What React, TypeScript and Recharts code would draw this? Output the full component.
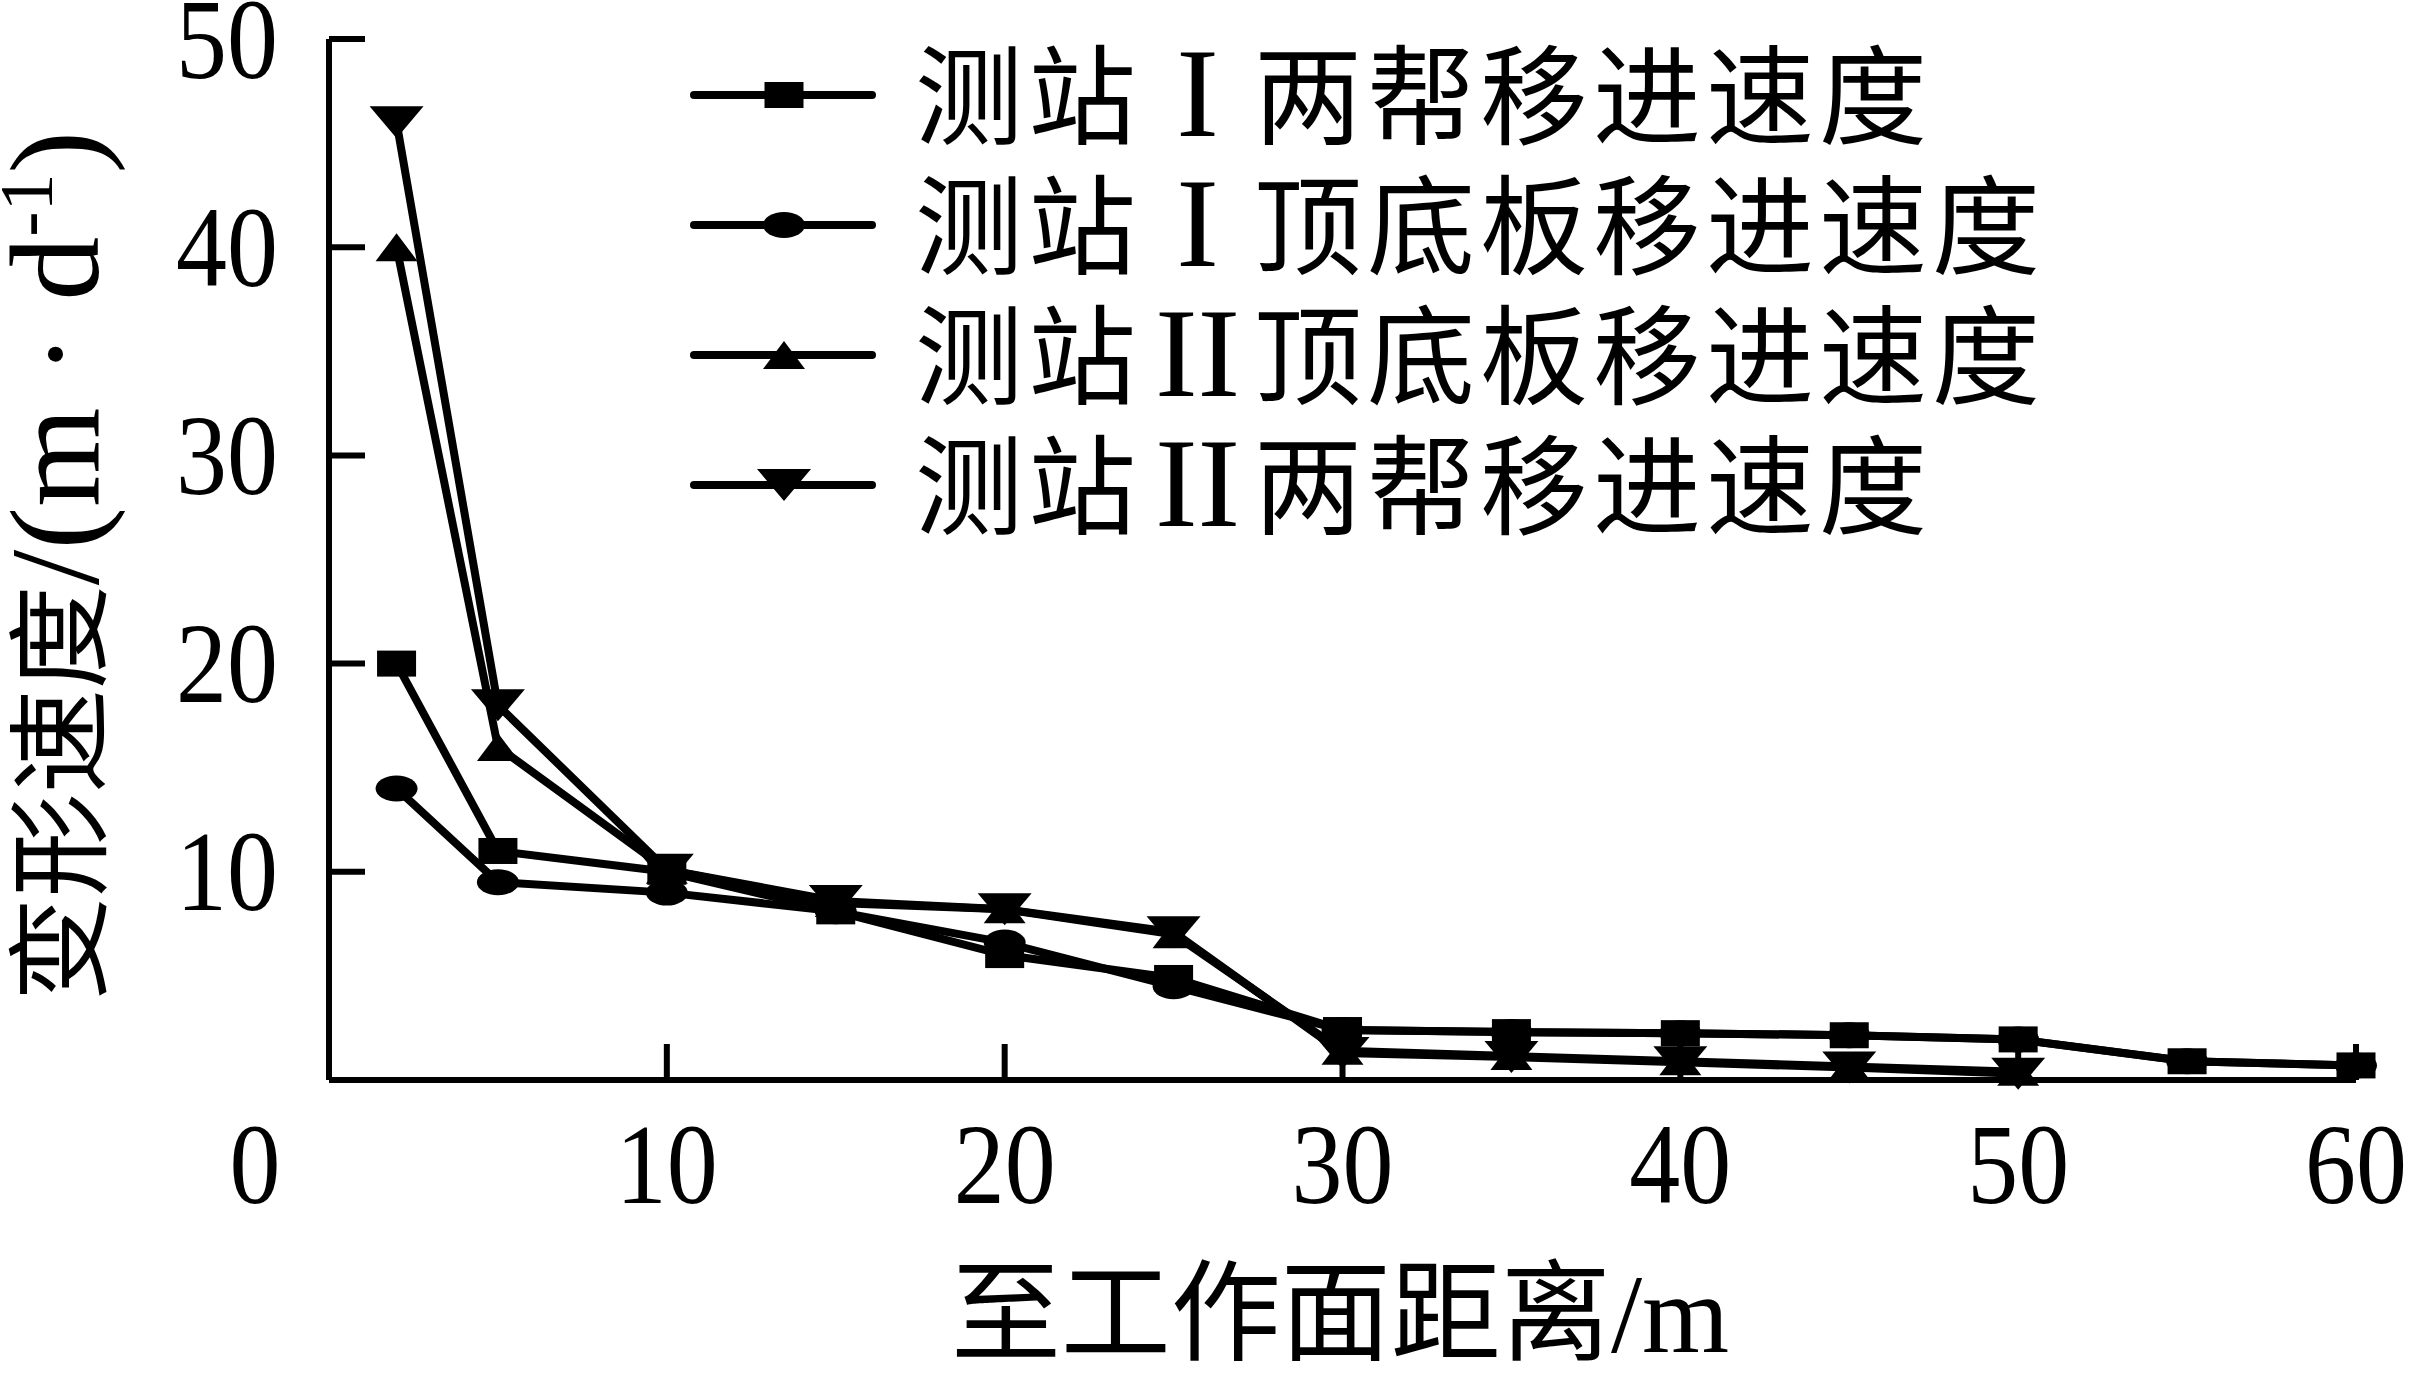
import React from 'react';
import { LineChart, Line, XAxis, YAxis, Legend, Label } from 'recharts';

// distance to working face (m)
const distances = [2, 5, 10, 15, 20, 25, 30, 35, 40, 45, 50, 55, 60];

// deformation speed per station / position
const st1Sides = [20, 11, 10, 8.1, 6.0, 4.9, 2.4, 2.3, 2.25, 2.15, 1.95, 0.9, 0.7];
const st1RoofFloor = [14, 9.5, 9.0, 8.1, 6.6, 4.5, 2.4, 2.3, 2.25, 2.15, 1.95, 0.9, 0.7];
const st2RoofFloor = [40, 16, 10.1, 8.5, 8.2, 7.0, 1.4, 1.15, 0.9, 0.65, 0.4, null, null];
const st2Sides = [46, 18, 10.1, 8.6, 8.2, 7.1, 1.3, 1.1, 0.85, 0.6, 0.3, null, null];

// legend parts: station, numeral, description
const seriesStation = ['测站', '测站', '测站', '测站'];
const seriesNumeral = ['I', 'I', 'II', 'II'];
const seriesDesc = ['两帮移进速度', '顶底板移进速度', '顶底板移进速度', '两帮移进速度'];
const seriesNames = ['测站Ⅰ两帮移进速度', '测站Ⅰ顶底板移进速度', '测站Ⅱ顶底板移进速度', '测站Ⅱ两帮移进速度'];

const xTicks = [0, 10, 20, 30, 40, 50, 60];
const yTicks = [10, 20, 30, 40, 50];

const data = distances.map((d, i) => ({
  d,
  s1: st1Sides[i],
  s2: st1RoofFloor[i],
  s3: st2RoofFloor[i],
  s4: st2Sides[i],
}));

const SERIF = '"Liberation Serif", "Times New Roman", serif';
const CJK = '"Noto Sans CJK SC", sans-serif';

const Marker = ({ kind, cx, cy }: { kind: number; cx: number; cy: number }) => {
  if (kind === 0) return <rect x={cx - 19.5} y={cy - 13} width={39} height={26} fill="#000" />;
  if (kind === 1) return <ellipse cx={cx} cy={cy} rx={21} ry={13} fill="#000" />;
  if (kind === 2)
    return <polygon points={`${cx},${cy - 14} ${cx + 21},${cy + 14} ${cx - 21},${cy + 14}`} fill="#000" />;
  return <polygon points={`${cx - 27},${cy - 16} ${cx + 27},${cy - 16} ${cx},${cy + 16}`} fill="#000" />;
};

const makeDot = (kind: number) => (p: any) => {
  if (p.cy == null || p.value == null || isNaN(p.cy)) return <g key={`e${kind}-${p.index}`} />;
  return (
    <g key={`d${kind}-${p.index}`}>
      <Marker kind={kind} cx={p.cx} cy={p.cy} />
    </g>
  );
};

const YTick = (props: any) => {
  const { x, y, payload } = props;
  return (
    <g>
      <line x1={x} y1={y} x2={x + 36} y2={y} stroke="#000" strokeWidth={6} />
      <text
        x={x - 51}
        y={y}
        textAnchor="end"
        dominantBaseline="central"
        fontFamily={SERIF}
        fontSize={102}
        fill="#000"
        transform={`translate(0 ${y}) scale(1 1.12) translate(0 ${-y})`}
      >
        {payload.value}
      </text>
    </g>
  );
};

const XTick = (props: any) => {
  const { x, y, payload } = props;
  const v = payload.value;
  const ty = y + 84;
  return (
    <g>
      {v !== 0 && <line x1={x} y1={y} x2={x} y2={y - 36} stroke="#000" strokeWidth={6} />}
      <text
        x={v === 0 ? x - 74 : x}
        y={ty}
        textAnchor="middle"
        dominantBaseline="central"
        fontFamily={SERIF}
        fontSize={102}
        fill="#000"
        transform={`translate(0 ${ty}) scale(1 1.12) translate(0 ${-ty})`}
      >
        {v}
      </text>
    </g>
  );
};

const renderLegend = () => (
  <div>
    {seriesDesc.map((desc, i) => (
      <div key={seriesNames[i]} style={{ display: 'flex', alignItems: 'center', height: 130 }}>
        <svg width={225} height={130} style={{ flex: 'none' }}>
          <line x1={4} y1={65} x2={182} y2={65} stroke="#000" strokeWidth={8} strokeLinecap="round" />
          <Marker kind={i} cx={94} cy={65} />
        </svg>
        <span
          style={{
            fontFamily: CJK,
            fontSize: 108,
            lineHeight: '130px',
            letterSpacing: 5,
            whiteSpace: 'nowrap',
            color: '#000',
            position: 'relative',
            top: -4,
          }}
        >
          {seriesStation[i]}
          <span
            style={{
              display: 'inline-block',
              width: 113,
              textAlign: 'center',
              fontFamily: SERIF,
              fontSize: 128,
              letterSpacing: 0,
            }}
          >
            {seriesNumeral[i]}
          </span>
          {desc}
        </span>
      </div>
    ))}
  </div>
);

const YTitle = () => (
  <text x={98} y={566} textAnchor="middle" transform="rotate(-90 98 566)" fill="#000">
    <tspan fontFamily={CJK} fontSize={104}>变形速度</tspan>
    <tspan fontFamily={SERIF} fontSize={128}>/(m · d</tspan>
    <tspan fontFamily={SERIF} fontSize={76} dy={-46}>-1</tspan>
    <tspan fontFamily={SERIF} fontSize={128} dy={46}>)</tspan>
  </text>
);

const XTitle = () => (
  <text x={1340} y={1352} textAnchor="middle" fill="#000" fontFamily={CJK} fontSize={110}>
    至工作面距离<tspan fontFamily={SERIF} fontSize={112}>/m</tspan>
  </text>
);

export default function App() {
  return (
    <div style={{ position: 'absolute', left: 0, top: 0, width: 2419, height: 1373, background: '#fff' }}>
      <LineChart width={2419} height={1373} data={data} margin={{ top: 39, right: 63, left: 229, bottom: 193 }}>
        <XAxis
          dataKey="d"
          type="number"
          domain={[0, 60]}
          ticks={xTicks}
          interval={0}
          height={100}
          tickSize={0}
          tickMargin={0}
          tickLine={false}
          tick={(p: any) => <XTick {...p} />}
          axisLine={{ stroke: '#000', strokeWidth: 6 }}
        >
          <Label content={() => <XTitle />} />
        </XAxis>
        <YAxis
          type="number"
          domain={[0, 50]}
          ticks={yTicks}
          interval={0}
          width={100}
          tickSize={0}
          tickMargin={0}
          tickLine={false}
          tick={(p: any) => <YTick {...p} />}
          axisLine={{ stroke: '#000', strokeWidth: 6 }}
        >
          <Label content={() => <YTitle />} />
        </YAxis>
        <Legend
          content={renderLegend}
          layout="vertical"
          verticalAlign="middle"
          align="center"
          wrapperStyle={{ position: 'absolute', left: 690, top: 30, width: 1500 }}
        />
        <Line dataKey="s1" name={seriesNames[0]} stroke="#000" strokeWidth={8} dot={makeDot(0)} activeDot={false} isAnimationActive={false} />
        <Line dataKey="s2" name={seriesNames[1]} stroke="#000" strokeWidth={8} dot={makeDot(1)} activeDot={false} isAnimationActive={false} />
        <Line dataKey="s3" name={seriesNames[2]} stroke="#000" strokeWidth={8} dot={makeDot(2)} activeDot={false} isAnimationActive={false} />
        <Line dataKey="s4" name={seriesNames[3]} stroke="#000" strokeWidth={8} dot={makeDot(3)} activeDot={false} isAnimationActive={false} />
      </LineChart>
    </div>
  );
}
